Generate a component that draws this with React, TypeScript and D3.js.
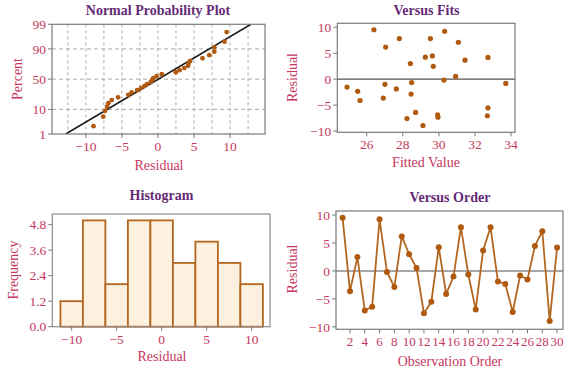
import React from "react";
import * as d3 from "d3";

// ---------- data ----------
const observation = d3.range(1, 31);
const residuals = [9.53, -3.65, 2.47, -7.06, -6.41, 9.24, -0.18, -2.88, 6.18, 3.0, 0.53, -7.59, -5.53, 4.24, -4.12, -1.0, 7.82, -0.65, -6.88, 3.65, 7.82, -1.88, -2.35, -7.35, -0.82, -1.53, 4.47, 7.12, -8.94, 4.18];
const fitted = [26.4, 26.92, 29.69, 32.69, 28.71, 30.32, 30.28, 28.46, 27.05, 28.42, 30.93, 28.23, 32.72, 29.25, 25.63, 27.01, 27.81, 28.49, 29.93, 31.45, 29.53, 27.64, 25.5, 29.95, 33.71, 24.91, 29.64, 31.08, 29.12, 32.72];
const histCenters = [-10, -7.5, -5, -2.5, 0, 2.5, 5, 7.5, 10];
const histCounts = [1.2, 5, 2, 5, 5, 3, 4, 3, 2];
const histBinWidth = 2.5;

const nppPercentTicks = [1, 10, 50, 90, 99];
const nppXTicks = [-10, -5, 0, 5, 10];
const nppGridX = [-12.5, -10, -7.5, -5, -2.5, 0, 2.5, 5, 7.5, 10, 12.5];
const nppGridY = [10, 50, 90];
const fitsXTicks = [26, 28, 30, 32, 34];
const residTicks = [-10, -5, 0, 5, 10];
const histYTicks = [0, 1.2, 2.4, 3.6, 4.8];
const orderTicks = d3.range(2, 31, 2);

// ---------- styles ----------
const FONT = "'Liberation Serif', 'DejaVu Serif', serif";
const TITLE = "#652a75";
const LABEL = "#c5385e";
const MARK = "#b05a10";
const LINE = "#b3661f";
const FRAME = "#7a7a7a";

// inverse standard normal CDF (Acklam)
function qnorm(p: number): number {
  const a = [-39.69683028665376, 220.9460984245205, -275.9285104469687, 138.357751867269, -30.66479806614716, 2.506628277459239];
  const b = [-54.47609879822406, 161.5858368580409, -155.6989798598866, 66.80131188771972, -13.28068155288572];
  const c = [-0.007784894002430293, -0.3223964580411365, -2.400758277161838, -2.549732539343734, 4.374664141464968, 2.938163982698783];
  const d = [0.007784695709041462, 0.3224671290700398, 2.445134137142996, 3.754408661907416];
  const pl = 0.02425;
  let q, r;
  if (p < pl) {
    q = Math.sqrt(-2 * Math.log(p));
    return (((((c[0] * q + c[1]) * q + c[2]) * q + c[3]) * q + c[4]) * q + c[5]) / ((((d[0] * q + d[1]) * q + d[2]) * q + d[3]) * q + 1);
  }
  if (p <= 1 - pl) {
    q = p - 0.5;
    r = q * q;
    return ((((((a[0] * r + a[1]) * r + a[2]) * r + a[3]) * r + a[4]) * r + a[5]) * q) / (((((b[0] * r + b[1]) * r + b[2]) * r + b[3]) * r + b[4]) * r + 1);
  }
  q = Math.sqrt(-2 * Math.log(1 - p));
  return -(((((c[0] * q + c[1]) * q + c[2]) * q + c[3]) * q + c[4]) * q + c[5]) / ((((d[0] * q + d[1]) * q + d[2]) * q + d[3]) * q + 1);
}

const fmtMinus = (v: number, f?: (n: number) => string) => {
  const s = f ? f(Math.abs(v)) : String(Math.abs(v));
  return v < 0 ? "\u2212" + s : s;
};

function Title({ x, y, text }: { x: number; y: number; text: string }) {
  return (
    <text x={x} y={y} textAnchor="middle" fontFamily={FONT} fontWeight="bold" fontSize={14} fill={TITLE}>
      {text}
    </text>
  );
}
function XLabel({ x, y, text }: { x: number; y: number; text: string }) {
  return (
    <text x={x} y={y} textAnchor="middle" fontFamily={FONT} fontSize={14} fill={LABEL}>
      {text}
    </text>
  );
}
function YLabel({ x, y, text }: { x: number; y: number; text: string }) {
  return (
    <text transform={`translate(${x},${y}) rotate(-90)`} textAnchor="middle" fontFamily={FONT} fontSize={14} fill={LABEL}>
      {text}
    </text>
  );
}

function YTicks({ ticks, scale, x0, labels }: { ticks: number[]; scale: (v: number) => number; x0: number; labels: string[] }) {
  return (
    <g>
      {ticks.map((t, i) => (
        <g key={i}>
          <line x1={x0 - 4} x2={x0} y1={scale(t)} y2={scale(t)} stroke={FRAME} strokeWidth={1} />
          <text x={x0 - 6} y={scale(t)} dy="0.35em" textAnchor="end" fontFamily={FONT} fontSize={13.5} fill={LABEL}>
            {labels[i]}
          </text>
        </g>
      ))}
    </g>
  );
}
function XTicks({ ticks, scale, y0, labels, fs = 13.5 }: { ticks: number[]; scale: (v: number) => number; y0: number; labels: string[]; fs?: number }) {
  return (
    <g>
      {ticks.map((t, i) => (
        <g key={i}>
          <line x1={scale(t)} x2={scale(t)} y1={y0} y2={y0 + 4} stroke={FRAME} strokeWidth={1} />
          <text x={scale(t)} y={y0 + 17} textAnchor="middle" fontFamily={FONT} fontSize={fs} fill={LABEL}>
            {labels[i]}
          </text>
        </g>
      ))}
    </g>
  );
}

export default function App() {
  // ---- Panel 1: normal probability ----
  const p1 = { l: 52, r: 265, t: 24.3, b: 134 };
  const x1 = d3.scaleLinear().domain([-14.7, 14.85]).range([p1.l, p1.r]);
  const yProb = d3.scaleLinear().domain([qnorm(0.01), qnorm(0.99)]).range([p1.b, p1.t]);
  const y1 = (pct: number) => yProb(qnorm(pct / 100));
  const sorted = residuals.slice().sort((a, b) => a - b);
  const n = sorted.length;
  const mean = d3.mean(residuals) as number;
  const sd = d3.deviation(residuals) as number;
  const zLo = qnorm(0.01), zHi = qnorm(0.99);

  // ---- Panel 2: versus fits ----
  const p2 = { l: 337.3, r: 515, t: 23.3, b: 132.3 };
  const x2 = d3.scaleLinear().domain([24.37, 34.22]).range([p2.l, p2.r]);
  const y2 = d3.scaleLinear().domain([-10.25, 10.77]).range([p2.b, p2.t]);

  // ---- Panel 3: histogram ----
  const p3 = { l: 52.3, r: 270, t: 214, b: 326.7 };
  const x3 = d3.scaleLinear().domain([-12.15, 12.04]).range([p3.l, p3.r]);
  const y3 = d3.scaleLinear().domain([0, 5.3]).range([p3.b, p3.t]);

  // ---- Panel 4: versus order ----
  const p4 = { l: 336, r: 563, t: 211, b: 329.3 };
  const x4 = d3.scaleLinear().domain([0.11, 30.8]).range([p4.l, p4.r]);
  const y4 = d3.scaleLinear().domain([-10.44, 10.72]).range([p4.b, p4.t]);
  const orderLine = d3
    .line<number>()
    .x((_, i) => x4(observation[i]))
    .y((d) => y4(d))(residuals);

  const f1 = d3.format(".1f");

  return (
    <svg width={577} height={375} style={{ position: "absolute", left: 0, top: 0, background: "#fff" }}>
      <defs>
        <clipPath id="c1">
          <rect x={p1.l} y={p1.t} width={p1.r - p1.l} height={p1.b - p1.t} />
        </clipPath>
      </defs>

      {/* Panel 1 */}
      <Title x={158} y={15} text="Normal Probability Plot" />
      <g>
        {nppGridX.map((g) => (
          <line key={g} x1={x1(g)} x2={x1(g)} y1={p1.t} y2={p1.b} stroke="#aaa" strokeDasharray="3,3" strokeWidth={1} />
        ))}
        {nppGridY.map((g) => (
          <line key={g} x1={p1.l} x2={p1.r} y1={y1(g)} y2={y1(g)} stroke="#aaa" strokeDasharray="4,3" strokeWidth={1} />
        ))}
        <line
          clipPath="url(#c1)"
          x1={x1(mean + zLo * sd)}
          y1={yProb(zLo)}
          x2={x1(mean + zHi * sd)}
          y2={yProb(zHi)}
          stroke="#1a1a1a"
          strokeWidth={1.6}
        />
        {sorted.map((v, i) => (
          <circle key={i} cx={x1(v)} cy={yProb(qnorm((i + 1 - 0.3) / (n + 0.4)))} r={2.4} fill={MARK} />
        ))}
        <rect x={p1.l} y={p1.t} width={p1.r - p1.l} height={p1.b - p1.t} fill="none" stroke={FRAME} strokeWidth={1.2} />
        <YTicks ticks={nppPercentTicks} scale={y1} x0={p1.l} labels={nppPercentTicks.map(String)} />
        <XTicks ticks={nppXTicks} scale={x1} y0={p1.b} labels={nppXTicks.map((t) => fmtMinus(t))} />
      </g>
      <XLabel x={159} y={170} text="Residual" />
      <YLabel x={22} y={79} text="Percent" />

      {/* Panel 2 */}
      <Title x={426.5} y={15} text="Versus Fits" />
      <g>
        <line x1={p2.l} x2={p2.r} y1={y2(0)} y2={y2(0)} stroke="#555" strokeWidth={1.3} />
        {residuals.map((v, i) => (
          <circle key={i} cx={x2(fitted[i])} cy={y2(v)} r={2.6} fill={MARK} />
        ))}
        <rect x={p2.l} y={p2.t} width={p2.r - p2.l} height={p2.b - p2.t} fill="none" stroke={FRAME} strokeWidth={1.2} />
        <YTicks ticks={residTicks} scale={y2} x0={p2.l} labels={residTicks.map((t) => fmtMinus(t))} />
        <XTicks ticks={fitsXTicks} scale={x2} y0={p2.b} labels={fitsXTicks.map(String)} />
      </g>
      <XLabel x={426} y={167} text="Fitted Value" />
      <YLabel x={297} y={77.5} text="Residual" />

      {/* Panel 3 */}
      <Title x={161.5} y={200} text="Histogram" />
      <g>
        {histCenters.map((c, i) => (
          <rect
            key={i}
            x={x3(c - histBinWidth / 2)}
            y={y3(histCounts[i])}
            width={x3(c + histBinWidth / 2) - x3(c - histBinWidth / 2)}
            height={y3(0) - y3(histCounts[i])}
            fill="#fdf0df"
            stroke={LINE}
            strokeWidth={1.8}
          />
        ))}
        <rect x={p3.l} y={p3.t} width={p3.r - p3.l} height={p3.b - p3.t} fill="none" stroke="#8c8c8c" strokeWidth={1.2} />
        <YTicks ticks={histYTicks} scale={y3} x0={p3.l} labels={histYTicks.map((t) => f1(t))} />
        <XTicks ticks={nppXTicks} scale={x3} y0={p3.b} labels={nppXTicks.map((t) => fmtMinus(t))} />
      </g>
      <XLabel x={162} y={361} text="Residual" />
      <YLabel x={18} y={270} text="Frequency" />

      {/* Panel 4 */}
      <Title x={450} y={202} text="Versus Order" />
      <g>
        <line x1={p4.l} x2={p4.r} y1={y4(0)} y2={y4(0)} stroke="#8a8a8a" strokeWidth={1.6} />
        <path d={orderLine || ""} fill="none" stroke={LINE} strokeWidth={1.8} />
        {residuals.map((v, i) => (
          <circle key={i} cx={x4(observation[i])} cy={y4(v)} r={3} fill={MARK} />
        ))}
        <rect x={p4.l} y={p4.t} width={p4.r - p4.l} height={p4.b - p4.t} fill="none" stroke={FRAME} strokeWidth={1.2} />
        <YTicks ticks={residTicks} scale={y4} x0={p4.l} labels={residTicks.map((t) => fmtMinus(t))} />
        <XTicks ticks={orderTicks} scale={x4} y0={p4.b} labels={orderTicks.map(String)} fs={13} />
      </g>
      <XLabel x={450} y={366} text="Observation Order" />
      <YLabel x={297} y={269} text="Residual" />
    </svg>
  );
}
